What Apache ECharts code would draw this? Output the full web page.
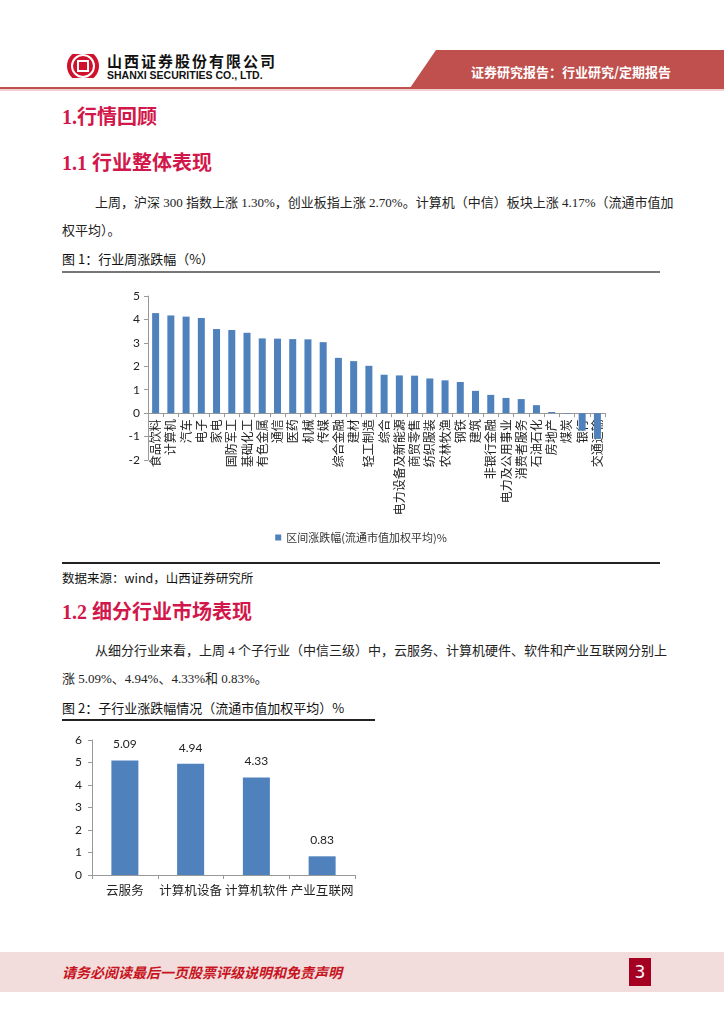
<!DOCTYPE html>
<html>
<head>
<meta charset="utf-8">
<script src="https://cdn.jsdelivr.net/npm/echarts@6/dist/echarts.min.js"></script>
<style>
  html,body{margin:0;padding:0;background:#fff;}
  body{width:724px;height:1024px;position:relative;overflow:hidden;font-family:"Liberation Serif","Noto Sans CJK SC",serif;color:#222;}
  .abs{position:absolute;white-space:nowrap;}
  .h{color:#d2174a;font-weight:bold;font-size:20px;font-family:"Liberation Serif","Noto Sans CJK SC",serif;}
  .p{font-size:13px;color:#222;}
  .cap{font-size:13px;color:#111;font-family:"Noto Sans CJK SC",sans-serif;}
</style>
</head>
<body>
<!-- header -->
<svg class="abs" style="left:0;top:0" width="724" height="96">
  <polygon points="436,50 724,50 724,88 410,88" fill="#c0504d"/>
  <rect x="0" y="87" width="724" height="2" fill="#c0504d"/>
  <rect x="0" y="89" width="724" height="2" fill="#f0d0d0"/>
  <circle cx="83" cy="66" r="16" fill="#d0112b"/>
  <circle cx="83" cy="66" r="11" fill="none" stroke="#fff" stroke-width="2"/>
  <rect x="78" y="61" width="10" height="10" fill="none" stroke="#fff" stroke-width="2"/>
  <rect x="73" y="50" width="20" height="4" fill="#fff"/>
  <rect x="73" y="78" width="20" height="4" fill="#fff"/>
</svg>
<div class="abs" style="left:107px;top:50px;font-size:15px;font-weight:bold;letter-spacing:2px;font-family:'Noto Sans CJK SC',sans-serif;color:#111;">山西证券股份有限公司</div>
<div class="abs" style="left:107px;top:69px;font-size:10.5px;font-weight:bold;font-family:'Liberation Sans',sans-serif;color:#111;">SHANXI SECURITIES CO., LTD.</div>
<div class="abs" style="left:471px;top:62px;font-size:13px;font-weight:bold;color:#fff;font-family:'Noto Sans CJK SC',sans-serif;">证券研究报告：行业研究/定期报告</div>

<div class="abs h" style="left:62px;top:101px;">1.行情回顾</div>
<div class="abs h" style="left:62px;top:147px;">1.1 行业整体表现</div>
<div class="abs p" style="left:95px;top:192px;">上周，沪深 300 指数上涨 1.30%，创业板指上涨 2.70%。计算机（中信）板块上涨 4.17%（流通市值加</div>
<div class="abs p" style="left:62px;top:220px;">权平均）。</div>
<div class="abs cap" style="left:62px;top:249px;">图 1：行业周涨跌幅（%）</div>
<div class="abs" style="left:62px;top:271px;width:598px;height:1.5px;background:#777;"></div>
<div id="c1" class="abs" style="left:62px;top:275px;width:598px;height:282px;"></div>
<div class="abs" style="left:62px;top:562px;width:598px;height:1.5px;background:#222;"></div>
<div class="abs cap" style="left:62px;top:568px;font-size:12.5px;">数据来源：wind，山西证券研究所</div>

<div class="abs h" style="left:62px;top:596px;">1.2 细分行业市场表现</div>
<div class="abs p" style="left:95px;top:640px;">从细分行业来看，上周 4 个子行业（中信三级）中，云服务、计算机硬件、软件和产业互联网分别上</div>
<div class="abs p" style="left:62px;top:668px;">涨 5.09%、4.94%、4.33%和 0.83%。</div>
<div class="abs cap" style="left:62px;top:698px;">图 2：子行业涨跌幅情况（流通市值加权平均）%</div>
<div class="abs" style="left:62px;top:719px;width:313px;height:1.5px;background:#222;"></div>
<div id="c2" class="abs" style="left:62px;top:722px;width:313px;height:185px;"></div>

<!-- footer -->
<div class="abs" style="left:0;top:952px;width:724px;height:40px;background:#f2dcdc;"></div>
<div class="abs" style="left:62px;top:962px;font-size:14px;font-weight:bold;font-style:italic;color:#c8141e;font-family:'Noto Sans CJK SC',sans-serif;">请务必阅读最后一页股票评级说明和免责声明</div>
<div class="abs" style="left:629px;top:958px;width:22px;height:28px;background:#a50021;color:#fff;font-size:17px;text-align:center;line-height:28px;font-family:'DejaVu Sans',sans-serif;">3</div>

<script>
const industries = ['食品饮料','计算机','汽车','电子','家电','国防军工','基础化工','有色金属','通信','医药','机械','传媒','综合金融','建材','轻工制造','综合','电力设备及新能源','商贸零售','纺织服装','农林牧渔','钢铁','建筑','非银行金融','电力及公用事业','消费者服务','石油石化','房地产','煤炭','银行','交通运输'];
const industryChange = [4.27,4.17,4.12,4.06,3.59,3.55,3.43,3.19,3.18,3.16,3.15,3.03,2.36,2.22,2.02,1.64,1.61,1.60,1.48,1.40,1.33,0.95,0.78,0.65,0.60,0.34,0.05,-0.02,-0.75,-1.10];
const yTicks1 = {min:-2, max:5, interval:1};
const seriesName1 = '区间涨跌幅(流通市值加权平均)%';

const subIndustries = ['云服务','计算机设备','计算机软件','产业互联网'];
const subChange = [5.09,4.94,4.33,0.83];
const yTicks2 = {min:0, max:6, interval:1};

const blue = '#4f81bd';
const labelFont = 'Lato, "Noto Sans CJK SC", sans-serif';
const cjk = '"Noto Sans CJK SC", sans-serif';

const grid1H = 164;
// place the category axis (line + labels) at value 0
const zeroOffset = -grid1H * (0 - yTicks1.min) / (yTicks1.max - yTicks1.min);

const c1 = echarts.init(document.getElementById('c1'));
c1.setOption({
  animation:false,
  grid:{left:86, top:21, width:457, height:grid1H, containLabel:false, outerBoundsMode:'none'},
  legend:{show:true, top:252, left:'center', itemWidth:6, itemHeight:6, icon:'rect',
    textStyle:{fontSize:11, color:'#333', fontFamily:cjk}, data:[seriesName1]},
  xAxis:{type:'category', data:industries, offset:zeroOffset,
    axisLine:{onZero:false, lineStyle:{color:'#999'}},
    axisTick:{show:true, alignWithLabel:false, length:4, lineStyle:{color:'#999'}},
    axisLabel:{rotate:90, interval:0, fontSize:12, color:'#222', fontFamily:cjk, margin:6}},
  yAxis:{type:'value', min:yTicks1.min, max:yTicks1.max, interval:yTicks1.interval,
    splitLine:{show:false},
    axisLine:{show:true, lineStyle:{color:'#999'}},
    axisTick:{show:true, length:4, lineStyle:{color:'#999'}},
    axisLabel:{fontSize:12, color:'#222', fontFamily:labelFont, margin:8}},
  series:[{name:seriesName1, type:'bar', data:industryChange, barWidth:7,
    itemStyle:{color:blue}, z:1}]
});

const c2 = echarts.init(document.getElementById('c2'));
c2.setOption({
  animation:false,
  grid:{left:30, top:18, width:263, height:135, containLabel:false, outerBoundsMode:'none'},
  xAxis:{type:'category', data:subIndustries,
    axisLine:{lineStyle:{color:'#999'}},
    axisTick:{show:true, length:4, lineStyle:{color:'#999'}},
    axisLabel:{interval:0, fontSize:12.5, color:'#222', fontFamily:cjk, margin:9}},
  yAxis:{type:'value', min:yTicks2.min, max:yTicks2.max, interval:yTicks2.interval,
    splitLine:{show:false},
    axisLine:{show:true, lineStyle:{color:'#999'}},
    axisTick:{show:true, length:4, lineStyle:{color:'#999'}},
    axisLabel:{fontSize:12, color:'#222', fontFamily:labelFont, margin:10}},
  series:[{type:'bar', data:subChange, barWidth:27, itemStyle:{color:blue},
    label:{show:true, position:'top', distance:10, fontSize:12, color:'#222', fontFamily:labelFont,
      formatter:p=>p.value.toFixed(2)}}]
});
</script>
</body>
</html>
